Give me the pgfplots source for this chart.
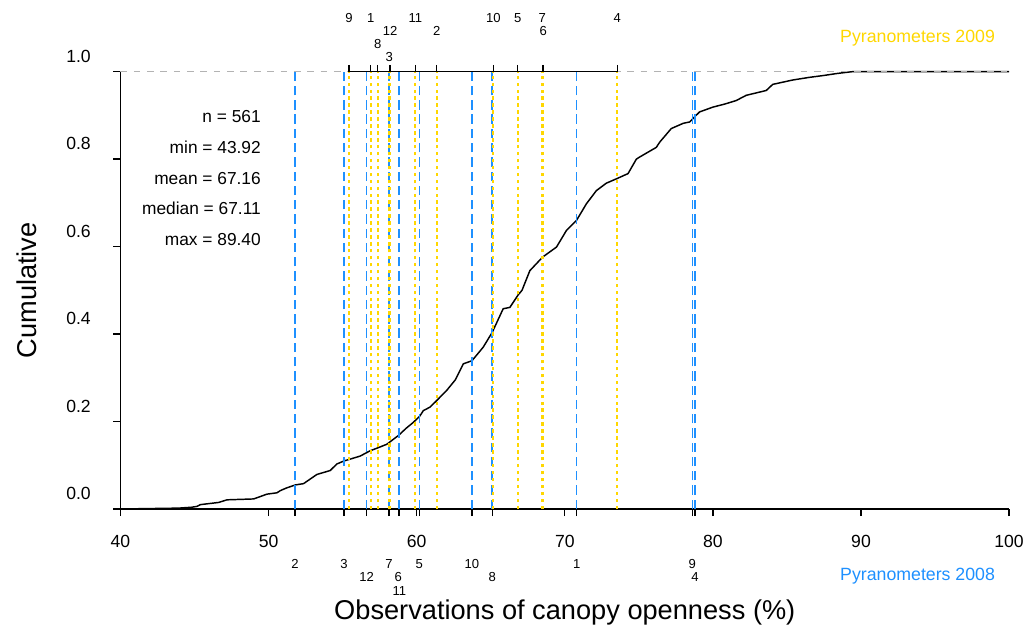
\documentclass[border=0pt]{standalone}
\usepackage{pgfplots}
\pgfplotsset{compat=1.18}
\usepackage{fontspec}
\setmainfont{Liberation Sans}
\definecolor{dblue}{RGB}{30,144,255}
\definecolor{gold}{RGB}{255,215,0}
\definecolor{gray70}{RGB}{179,179,179}
\begin{document}
\begin{tikzpicture}
\begin{axis}[
  name=ax,
  x=11.1075pt, y=327.975pt,
  xmin=40, xmax=100, ymin=0, ymax=1,
  enlargelimits=false,
  axis lines*=left,
  axis line style={line width=1pt},
  clip=false,
  tick align=outside,
  major tick length=5.3pt,
  tick style={black, line width=1pt},
  xtick={40,50,60,70,80,90,100},
  xticklabels={40,50,60,70,80,90,100},
  ytick={0,0.2,0.4,0.6,0.8,1},
  yticklabels={0.0,0.2,0.4,0.6,0.8,1.0},
  extra x ticks={51.78,55.09,56.62,58.13,58.76,58.83,60.18,63.73,65.10,70.80,78.61,78.79},
  extra x tick labels={},
  /pgf/number format/assume math mode=true,
  ticklabel style={font=\fontsize{13.2}{15}\selectfont},
  xticklabel style={anchor=north, yshift=-11pt},
  yticklabel style={anchor=east, xshift=-13.5pt, yshift=11.5pt},
  xlabel={Observations of canopy openness (\%)},
  ylabel={Cumulative},
  label style={font=\fontsize{20.4}{24}\selectfont},
  xlabel style={at={(rel axis cs:0.5,-0.236)}, anchor=center},
  ylabel style={at={(rel axis cs:-0.1052,0.5)}, anchor=center},
]
\addplot[black, line width=1.1pt] coordinates {
(40,0) (43.92,0.002) (44.80,0.004) (45.17,0.006) (45.39,0.010) (46.63,0.015)
(47.19,0.021) (48.99,0.023) (49.89,0.034) (50.56,0.037) (50.79,0.042)
(51.20,0.048) (51.80,0.055) (52.36,0.058) (53.26,0.079) (54.16,0.088)
(54.61,0.103) (55.10,0.110) (55.60,0.115) (56.18,0.121) (56.85,0.133)
(57.31,0.139) (57.98,0.148) (58.76,0.168) (59.30,0.185) (59.77,0.198)
(60.20,0.212) (60.45,0.225) (60.90,0.233) (61.35,0.248) (62.02,0.271)
(62.60,0.295) (63.15,0.332) (63.73,0.339) (64.49,0.370) (65.10,0.404)
(65.84,0.458) (66.29,0.461) (66.86,0.490) (67.11,0.500) (67.64,0.545)
(68.50,0.576) (69.44,0.599) (70.11,0.637) (70.79,0.660) (71.46,0.698)
(72.13,0.728) (72.80,0.745) (73.55,0.756) (74.27,0.767) (74.83,0.800)
(75.06,0.805) (76.18,0.827) (76.41,0.839) (77.19,0.870) (78.00,0.882)
(78.43,0.885) (78.80,0.898) (79.10,0.908) (80.00,0.919) (80.80,0.926)
(81.57,0.934) (82.25,0.946) (83.60,0.957) (84.04,0.971) (85.39,0.981)
(86.50,0.987) (87.41,0.991) (88.40,0.996) (89.40,1.000) (100,1.000)
};
% reference line at 1
\addplot[gray70, line width=0.9pt, dash pattern=on 5pt off 5pt] coordinates {(40,1) (100,1)};
% Pyranometers 2008
\addplot[dblue, line width=1.2pt, dash pattern=on 7pt off 3.7pt, unbounded coords=jump] coordinates {
(51.78,0) (51.78,1) (51.78,nan)
(55.09,0) (55.09,1) (55.09,nan)
(56.62,0) (56.62,1) (56.62,nan)
(58.13,0) (58.13,1) (58.13,nan)
(58.76,0) (58.76,1) (58.76,nan)
(58.83,0) (58.83,1) (58.83,nan)
(60.18,0) (60.18,1) (60.18,nan)
(63.73,0) (63.73,1) (63.73,nan)
(65.10,0) (65.10,1) (65.10,nan)
(70.80,0) (70.80,1) (70.80,nan)
(78.61,0) (78.61,1) (78.61,nan)
(78.79,0) (78.79,1)
};
% Pyranometers 2009
\addplot[gold, line width=1.5pt, dash pattern=on 2.6pt off 2.6pt, unbounded coords=jump] coordinates {
(55.43,0) (55.43,1) (55.43,nan)
(56.89,0) (56.89,1) (56.89,nan)
(57.37,0) (57.37,1) (57.37,nan)
(58.15,0) (58.15,1) (58.15,nan)
(58.20,0) (58.20,1) (58.20,nan)
(59.91,0) (59.91,1) (59.91,nan)
(61.35,0) (61.35,1) (61.35,nan)
(65.17,0) (65.17,1) (65.17,nan)
(66.82,0) (66.82,1) (66.82,nan)
(68.48,0) (68.48,1) (68.48,nan)
(68.55,0) (68.55,1) (68.55,nan)
(73.54,0) (73.54,1)
};
% top axis for 2009
\addplot[black, line width=1pt] coordinates {(55.43,1) (73.54,1)};
\addplot[only marks, mark=|, mark size=2.6pt, mark options={yshift=2.6pt, line width=1pt, black}] coordinates {
(55.43,1) (56.89,1) (57.37,1) (58.15,1) (58.20,1) (59.91,1) (61.35,1)
(65.17,1) (66.82,1) (68.48,1) (68.55,1) (73.54,1)
};
% labels 2009 (top)
\begin{scope}[every node/.style={font=\fontsize{9.8}{12}\selectfont, inner sep=0pt, anchor=center}]
\node at (axis cs:55.43,1.1228) {9};
\node at (axis cs:56.89,1.1228) {1};
\node at (axis cs:59.91,1.1228) {11};
\node at (axis cs:65.17,1.1228) {10};
\node at (axis cs:66.82,1.1228) {5};
\node at (axis cs:68.48,1.1228) {7};
\node at (axis cs:73.54,1.1228) {4};
\node at (axis cs:58.20,1.0930) {12};
\node at (axis cs:61.35,1.0930) {2};
\node at (axis cs:68.55,1.0930) {6};
\node at (axis cs:57.37,1.0633) {8};
\node at (axis cs:58.15,1.0336) {3};
% labels 2008 (bottom)
\node at (axis cs:51.78,-0.1258) {2};
\node at (axis cs:55.09,-0.1258) {3};
\node at (axis cs:58.13,-0.1258) {7};
\node at (axis cs:60.18,-0.1258) {5};
\node at (axis cs:63.73,-0.1258) {10};
\node at (axis cs:70.80,-0.1258) {1};
\node at (axis cs:78.61,-0.1258) {9};
\node at (axis cs:56.62,-0.1562) {12};
\node at (axis cs:58.76,-0.1562) {6};
\node at (axis cs:65.10,-0.1562) {8};
\node at (axis cs:78.79,-0.1562) {4};
\node at (axis cs:58.83,-0.1880) {11};
\end{scope}
\begin{scope}[every node/.style={font=\fontsize{13.3}{15}\selectfont, inner sep=0pt, anchor=center}]
\node[text=gold] at (axis cs:93.82,1.077) {Pyranometers 2009};
\node[text=dblue] at (axis cs:93.82,-0.1532) {Pyranometers 2008};
\end{scope}
\begin{scope}[every node/.style={font=\fontsize{13}{15}\selectfont, inner sep=0pt, anchor=east}]
\node at (axis cs:49.49,0.8964) {n = 561};
\node at (axis cs:49.49,0.8267) {min = 43.92};
\node at (axis cs:49.49,0.7558) {mean = 67.16};
\node at (axis cs:49.49,0.6872) {median = 67.11};
\node at (axis cs:49.49,0.6163) {max = 89.40};
\end{scope}
\end{axis}
\pgfresetboundingbox
\path (ax.south west) ++(-90.375pt,-92.25pt) rectangle ++(773.25pt,474pt);
\end{tikzpicture}
\end{document}
